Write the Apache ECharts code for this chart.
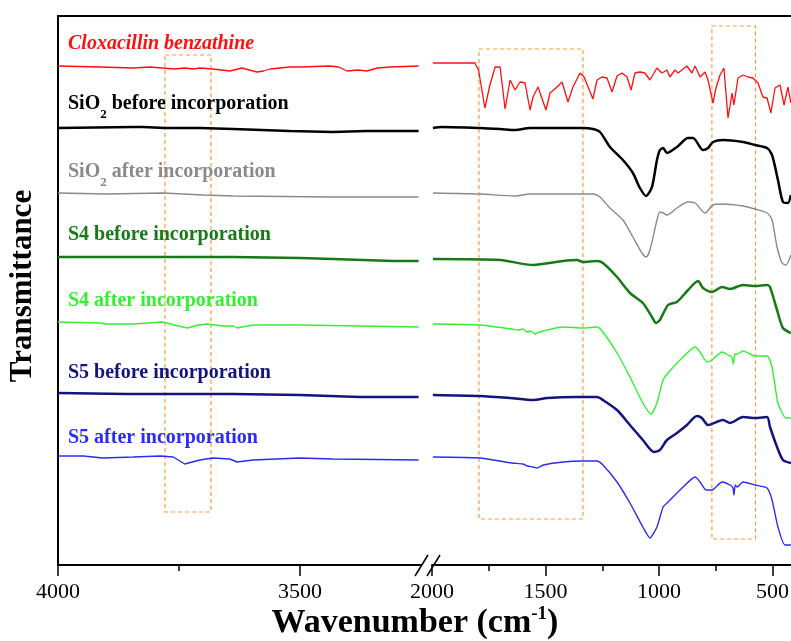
<!DOCTYPE html>
<html>
<head>
<meta charset="utf-8">
<script src="https://cdn.jsdelivr.net/npm/echarts@6/dist/echarts.min.js"></script>
<style>
  html, body { margin: 0; padding: 0; background: #fff; }
  #chart { width: 791px; height: 641px; }
</style>
</head>
<body>
<div id="chart"></div>
<script>
// wavenumber (cm-1), transmittance (a.u., stacked offsets)
var cloxLeft = [[4000,499],[3913,498],[3845,497],[3810,498],[3760,496],[3738,497],[3720,496],[3707,497],[3680,496],[3645,494],[3620,497],[3589,493],[3575,494],[3562,496],[3521,498],[3500,498],[3438,499],[3420,498],[3403,494],[3380,495],[3362,494],[3340,497],[3314,498],[3255,499]];
var cloxRight = [[1996,502],[1811,502],[1795,495],[1767,457],[1745,480],[1722,498],[1700,498],[1678,456],[1656,485],[1634,475],[1612,483],[1590,482],[1568,455],[1555,468],[1533,478],[1498,455],[1480,472],[1449,478],[1427,483],[1401,463],[1379,478],[1348,492],[1330,488],[1291,466],[1273,485],[1251,488],[1229,487],[1207,473],[1185,489],[1163,492],[1141,488],[1123,475],[1106,492],[1084,493],[1062,492],[1040,485],[1009,497],[987,492],[965,495],[952,488],[930,495],[916,492],[877,499],[855,492],[841,499],[819,488],[797,493],[784,485],[762,462],[749,477],[731,490],[714,497],[696,447],[678,472],[670,460],[652,487],[630,490],[608,488],[586,487],[564,482],[542,468],[524,467],[507,452],[489,477],[467,480],[449,460],[432,478],[419,462]];

var sio2BeforeLeft = [[4000,437],[3845,438],[3824,438],[3780,437],[3707,437],[3638,436],[3521,434],[3432,433],[3362,434],[3255,434]];
var sio2BeforeRight = [[1996,437],[1956,438],[1789,437],[1700,436],[1634,435],[1568,437],[1335,437],[1291,436],[1260,433],[1216,418],[1159,405],[1115,392],[1084,377],[1057,369],[1031,378],[1009,405],[996,415],[982,417],[965,412],[921,418],[872,427],[850,427],[806,415],[784,417],[762,423],[718,425],[630,423],[577,420],[524,417],[502,410],[476,385],[454,363],[432,362],[419,370]];

var sio2AfterLeft = [[4000,372],[3900,371],[3783,372],[3700,370],[3638,369],[3432,368],[3255,368]];
var sio2AfterRight = [[1996,372],[1789,371],[1634,369],[1568,371],[1291,371],[1260,368],[1216,357],[1159,345],[1115,328],[1075,312],[1057,308],[1040,315],[1009,345],[996,353],[982,352],[965,350],[921,357],[872,363],[841,362],[797,352],[762,360],[718,361],[630,359],[577,356],[524,352],[502,345],[480,318],[458,302],[441,300],[419,310]];

var s4BeforeLeft = [[4000,308],[3899,308],[3638,308],[3500,307],[3432,306],[3308,304],[3255,304]];
var s4BeforeRight = [[1996,306],[1700,305],[1555,300],[1423,304],[1361,305],[1335,303],[1273,304],[1247,302],[1185,288],[1128,272],[1071,262],[1031,248],[1013,242],[996,245],[960,260],[921,263],[872,275],[828,284],[806,277],[767,273],[722,278],[687,276],[630,280],[577,279],[524,280],[511,278],[480,255],[454,237],[419,232]];

var s4AfterLeft = [[4000,243],[3913,242],[3899,241],[3845,241],[3783,243],[3760,240],[3733,237],[3710,240],[3692,241],[3660,239],[3638,239],[3630,237],[3597,240],[3500,240],[3255,238]];
var s4AfterRight = [[1996,241],[1789,240],[1648,236],[1620,235],[1600,236],[1580,233],[1568,234],[1545,231],[1537,232],[1511,234],[1423,238],[1335,237],[1273,238],[1247,233],[1185,212],[1128,188],[1071,162],[1035,151],[1009,162],[982,185],[960,192],[894,208],[841,218],[819,213],[789,203],[767,205],[722,213],[696,210],[680,208],[672,201],[666,211],[656,211],[630,214],[577,209],[524,209],[502,198],[476,162],[441,147],[419,147]];

var s5BeforeLeft = [[4000,172],[3857,171],[3638,171],[3500,170],[3376,168],[3255,168]];
var s5BeforeRight = [[1996,170],[1789,169],[1656,167],[1555,165],[1493,167],[1361,168],[1273,168],[1247,165],[1185,155],[1128,140],[1071,125],[1022,113],[996,115],[965,125],[921,132],[877,140],[833,149],[811,147],[784,140],[718,145],[687,142],[630,148],[577,147],[524,148],[511,138],[480,118],[454,105],[419,102]];

var s5AfterLeft = [[4000,109],[3948,109],[3907,107],[3845,108],[3789,109],[3762,108],[3738,101],[3707,105],[3680,107],[3645,106],[3630,103],[3597,105],[3500,107],[3432,106],[3255,105]];
var s5AfterRight = [[1996,108],[1789,107],[1648,102],[1600,101],[1580,99],[1555,98],[1537,97],[1510,100],[1423,103],[1335,104],[1273,104],[1247,100],[1185,83],[1128,62],[1071,38],[1040,27],[1009,38],[982,58],[960,63],[894,78],[841,88],[819,83],[793,75],[767,75],[722,83],[687,80],[674,77],[670,70],[664,80],[656,78],[630,83],[577,80],[524,77],[502,65],[476,38],[445,20],[419,20]];

var leftMajorTicks = [4000, 3500];
var leftMinorTicks = [3750];
var rightMajorTicks = [2000, 1500, 1000, 500];
var rightMinorTicks = [1750, 1250, 750];

// dashed highlight boxes: [wavenumber from, wavenumber to, top, bottom]
var boxLeft = [3779, 3684, 510, 53];
var boxRight1 = [1793, 1335, 516, 46];
var boxRight2 = [767, 575, 539, 26];

var serif = "'Liberation Serif', 'Times New Roman', serif";
var boxStyle = { color: 'rgba(0,0,0,0)', borderColor: '#ff9a3a', borderWidth: 1.2, borderType: [4, 3] };

var spectra = [
  { name: 'Cloxacillin benzathine', left: cloxLeft, right: cloxRight, color: '#ff1010', width: 1.3, smooth: false },
  { name: 'SiO2 before incorporation', left: sio2BeforeLeft, right: sio2BeforeRight, color: '#000000', width: 2.5, smooth: 0.25 },
  { name: 'SiO2 after incorporation', left: sio2AfterLeft, right: sio2AfterRight, color: '#8a8a8a', width: 1.4, smooth: 0.25 },
  { name: 'S4 before incorporation', left: s4BeforeLeft, right: s4BeforeRight, color: '#167a16', width: 2.5, smooth: 0.25 },
  { name: 'S4 after incorporation', left: s4AfterLeft, right: s4AfterRight, color: '#33f033', width: 1.4, smooth: 0.2 },
  { name: 'S5 before incorporation', left: s5BeforeLeft, right: s5BeforeRight, color: '#14147e', width: 2.5, smooth: 0.25 },
  { name: 'S5 after incorporation', left: s5AfterLeft, right: s5AfterRight, color: '#2b2bf5', width: 1.4, smooth: 0.2 }
];

var series = [];
spectra.forEach(function (s, i) {
  var l = { type: 'line', name: s.name, xAxisIndex: 0, yAxisIndex: 0, data: s.left, showSymbol: false,
            lineStyle: { color: s.color, width: s.width }, itemStyle: { color: s.color }, z: 3 };
  var r = { type: 'line', name: s.name, xAxisIndex: 2, yAxisIndex: 1, data: s.right, showSymbol: false, smooth: s.smooth,
            lineStyle: { color: s.color, width: s.width }, itemStyle: { color: s.color }, z: 3 };
  if (i === 0) {
    l.markArea = { silent: true, itemStyle: boxStyle, data: [[{ xAxis: boxLeft[0], yAxis: boxLeft[2] }, { xAxis: boxLeft[1], yAxis: boxLeft[3] }]] };
    r.markArea = { silent: true, itemStyle: boxStyle, data: [
      [{ xAxis: boxRight1[0], yAxis: boxRight1[2] }, { xAxis: boxRight1[1], yAxis: boxRight1[3] }],
      [{ xAxis: boxRight2[0], yAxis: boxRight2[2] }, { xAxis: boxRight2[1], yAxis: boxRight2[3] }]
    ] };
  }
  series.push(l, r);
});

function mainAxis(grid, min, max, ticks) {
  return {
    type: 'value', gridIndex: grid, inverse: true, min: min, max: max, position: 'bottom',
    axisLine: { show: true, onZero: false, lineStyle: { color: '#000', width: 2 } },
    axisTick: { show: true, length: 11, customValues: ticks, lineStyle: { color: '#000', width: 1.5 } },
    axisLabel: { show: true, customValues: ticks, margin: 16, color: '#000', fontSize: 22, fontFamily: serif,
                 formatter: function (v) { return String(v); } },
    splitLine: { show: false }
  };
}
function minorAxis(grid, min, max, ticks) {
  return {
    type: 'value', gridIndex: grid, inverse: true, min: min, max: max, position: 'bottom',
    axisLine: { show: false },
    axisTick: { show: true, length: 6, customValues: ticks, lineStyle: { color: '#000', width: 1.5 } },
    axisLabel: { show: false },
    splitLine: { show: false }
  };
}

var labelTops = [34, 94, 162, 225, 291, 363, 428];
var labelRich = {
  m: { fontSize: 20, lineHeight: 20, fontFamily: serif, fontWeight: 'bold', verticalAlign: 'top' },
  s: { fontSize: 13, lineHeight: 13, fontFamily: serif, fontWeight: 'bold', verticalAlign: 'top', padding: [14, 0, 0, 0] }
};
var graphics = [];
spectra.forEach(function (s, i) {
  var txt = s.name.indexOf('SiO2') === 0
    ? '{m|SiO}{s|2}{m|' + s.name.slice(4) + '}'
    : '{m|' + s.name + '}';
  var rich = JSON.parse(JSON.stringify(labelRich));
  if (i === 0) rich.m.fontStyle = 'italic';
  graphics.push({
    type: 'text', x: 68, y: labelTops[i], z: 10,
    style: { text: txt, rich: rich, fill: s.color, align: 'left', verticalAlign: 'top', textAlign: 'left', textVerticalAlign: 'top' }
  });
});
// frame top line and axis break marks
graphics.push({ type: 'line', shape: { x1: 57, y1: 16, x2: 791, y2: 16 }, style: { stroke: '#000', lineWidth: 2 } });
graphics.push({ type: 'line', shape: { x1: 415, y1: 576, x2: 428, y2: 555 }, style: { stroke: '#000', lineWidth: 1.5 } });
graphics.push({ type: 'line', shape: { x1: 427, y1: 576, x2: 440, y2: 555 }, style: { stroke: '#000', lineWidth: 1.5 } });
// axis titles
graphics.push({
  type: 'text', x: 23, y: 286, rotation: Math.PI / 2,
  style: { text: 'Transmittance', fill: '#000', font: 'bold 31px ' + serif, align: 'center', verticalAlign: 'middle', textAlign: 'center', textVerticalAlign: 'middle' }
});
graphics.push({
  type: 'text', x: 415, y: 605,
  style: {
    text: '{m|Wavenumber (cm}{p|-1}{m|)}', fill: '#000',
    align: 'center', verticalAlign: 'top', textAlign: 'center', textVerticalAlign: 'top',
    rich: {
      m: { fontSize: 34, lineHeight: 36, fontFamily: serif, fontWeight: 'bold' },
      p: { fontSize: 19, lineHeight: 16, fontFamily: serif, fontWeight: 'bold', verticalAlign: 'top' }
    }
  }
});

var chart = echarts.init(document.getElementById('chart'), null, { renderer: 'canvas' });
chart.setOption({
  animation: false,
  backgroundColor: '#fff',
  grid: [
    { left: 58, top: 16, width: 363, height: 549, outerBoundsMode: 'none', containLabel: false },
    { left: 432, top: 16, width: 363.2, height: 549, outerBoundsMode: 'none', containLabel: false }
  ],
  xAxis: [
    mainAxis(0, 3250, 4000, leftMajorTicks),
    minorAxis(0, 3250, 4000, leftMinorTicks),
    mainAxis(1, 400, 2000, rightMajorTicks),
    minorAxis(1, 400, 2000, rightMinorTicks)
  ],
  yAxis: [
    { type: 'value', gridIndex: 0, min: 0, max: 549,
      axisLine: { show: true, lineStyle: { color: '#000', width: 2 } },
      axisTick: { show: false }, axisLabel: { show: false }, splitLine: { show: false } },
    { type: 'value', gridIndex: 1, min: 0, max: 549, show: false, splitLine: { show: false } }
  ],
  series: series,
  graphic: graphics
});
</script>
</body>
</html>
